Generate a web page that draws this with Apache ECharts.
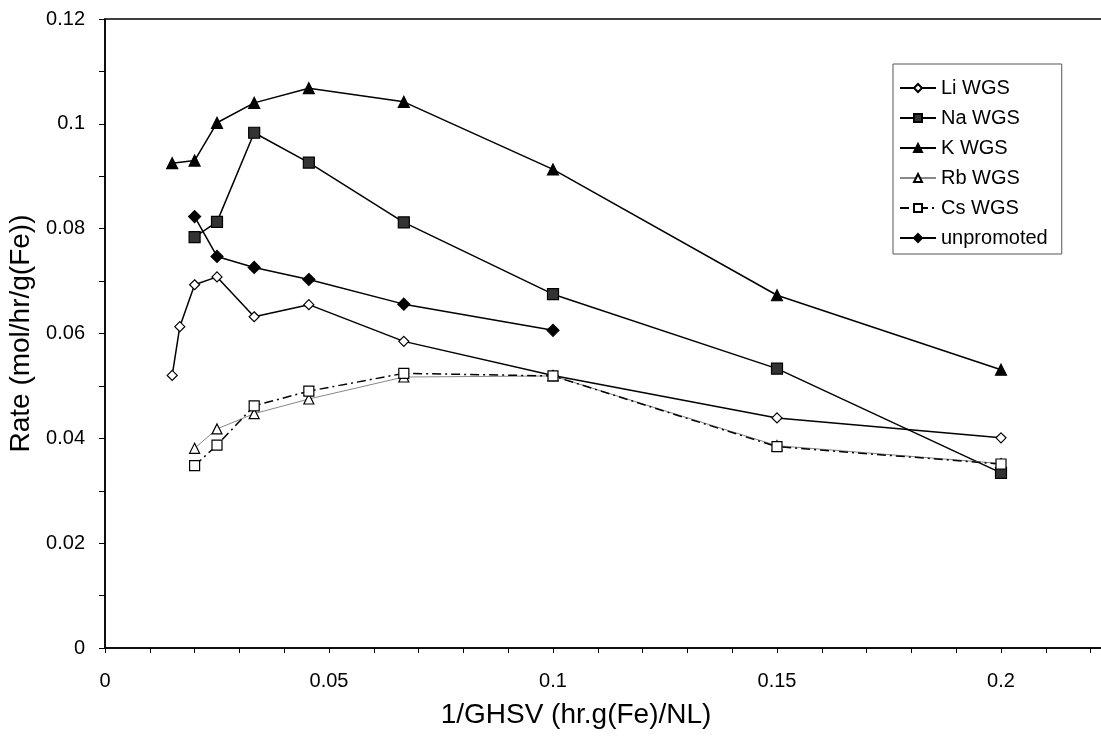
<!DOCTYPE html>
<html>
<head>
<meta charset="utf-8">
<script src="https://cdn.jsdelivr.net/npm/echarts@6/dist/echarts.min.js"></script>
<style>
html,body{margin:0;padding:0;background:#fff;}
#c{width:1101px;height:738px;}
</style>
</head>
<body>
<div id="c"></div>
<script>
// ---- data ----
const liX = [0.015, 0.0167, 0.02, 0.025, 0.0333, 0.0455, 0.0667, 0.1, 0.15, 0.2];
const liY = [0.052, 0.0613, 0.0693, 0.0708, 0.0632, 0.0655, 0.0585, 0.052, 0.0439, 0.0401];
const naX = [0.02, 0.025, 0.0333, 0.0455, 0.0667, 0.1, 0.15, 0.2];
const naY = [0.0784, 0.0813, 0.0983, 0.0926, 0.0812, 0.0675, 0.0533, 0.0334];
const kX = [0.015, 0.02, 0.025, 0.0333, 0.0455, 0.0667, 0.1, 0.15, 0.2];
const kY = [0.0925, 0.093, 0.1002, 0.104, 0.1068, 0.1042, 0.0913, 0.0673, 0.0531];
const rbX = [0.02, 0.025, 0.0333, 0.0455, 0.0667, 0.1, 0.15, 0.2];
const rbY = [0.0381, 0.0418, 0.0447, 0.0475, 0.0517, 0.0519, 0.0386, 0.0352];
const csX = [0.02, 0.025, 0.0333, 0.0455, 0.0667, 0.1, 0.15, 0.2];
const csY = [0.0348, 0.0387, 0.0462, 0.049, 0.0524, 0.0519, 0.0384, 0.0351];
const unX = [0.02, 0.025, 0.0333, 0.0455, 0.0667, 0.1];
const unY = [0.0823, 0.0747, 0.0726, 0.0703, 0.0656, 0.0606];
const seriesNames = ['Li WGS', 'Na WGS', 'K WGS', 'Rb WGS', 'Cs WGS', 'unpromoted'];
const xTitle = '1/GHSV (hr.g(Fe)/NL)';
const yTitle = 'Rate (mol/hr/g(Fe))';

const zip = (xs, ys) => xs.map((x, i) => [x, ys[i]]);
const FONT = 'Liberation Sans, Arial, sans-serif';

function mk(name, xs, ys, symbol, size, fill, border, line) {
  return {
    name, type: 'line', data: zip(xs, ys),
    symbol, symbolSize: size, showAllSymbol: true,
    itemStyle: { color: fill, borderColor: border, borderWidth: 1.2 },
    lineStyle: line,
    emphasis: { disabled: true },
    animation: false,
    z: 3
  };
}

const chart = echarts.init(document.getElementById('c'), null, { renderer: 'canvas' });
chart.setOption({
  backgroundColor: '#fff',
  animation: false,
  textStyle: { fontFamily: FONT },
  grid: {
    left: 105, top: 19, bottom: 90, right: -124,
    outerBoundsMode: 'none', containLabel: false,
    show: true, borderColor: '#000', borderWidth: 1.5, backgroundColor: 'transparent'
  },
  xAxis: {
    type: 'value', min: 0, max: 0.25, interval: 0.01,
    axisLine: { lineStyle: { color: '#000', width: 1.5 } },
    axisTick: { show: true, length: 5, lineStyle: { color: '#000' } },
    splitLine: { show: false },
    axisLabel: {
      color: '#000', fontSize: 20, margin: 23, fontFamily: FONT,
      formatter: function (v) {
        const k = Math.round(v / 0.05);
        if (Math.abs(k * 0.05 - v) < 1e-9) return String(+(k * 0.05).toFixed(2));
        return '';
      }
    }
  },
  yAxis: {
    type: 'value', min: 0, max: 0.12, interval: 0.02,
    name: yTitle, nameLocation: 'middle', nameGap: 56,
    nameTextStyle: { color: '#000', fontSize: 28, fontFamily: FONT },
    axisLine: { show: true, lineStyle: { color: '#000', width: 1.5 } },
    axisTick: { show: true, length: 6, lineStyle: { color: '#000' } },
    minorTick: { show: true, splitNumber: 2, length: 6, lineStyle: { color: '#000' } },
    splitLine: { show: false },
    axisLabel: { color: '#000', fontSize: 20, margin: 20, fontFamily: FONT }
  },
  legend: {
    orient: 'vertical', left: 893, top: 64,
    data: seriesNames,
    itemWidth: 36, itemHeight: 10, itemGap: 10,
    padding: [14, 14, 6, 6],
    borderColor: '#555', borderWidth: 1,
    textStyle: { color: '#000', fontSize: 20, fontFamily: FONT }
  },
  graphic: [{
    type: 'text',
    style: { text: xTitle, x: 576, y: 715, textAlign: 'center', textVerticalAlign: 'middle',
      fontSize: 28, fill: '#000', fontFamily: FONT }
  }],
  series: [
    mk(seriesNames[0], liX, liY, 'diamond', 10, '#fff', '#000', { color: '#000', width: 1.5 }),
    mk(seriesNames[1], naX, naY, 'rect', 11, '#333', '#000', { color: '#000', width: 1.5 }),
    mk(seriesNames[2], kX, kY, 'triangle', 11, '#000', '#000', { color: '#000', width: 1.5 }),
    mk(seriesNames[3], rbX, rbY, 'triangle', 10, '#fff', '#000', { color: '#888', width: 1 }),
    mk(seriesNames[4], csX, csY, 'rect', 10, '#fff', '#000', { color: '#000', width: 1.5, type: [9, 4, 2, 4] }),
    mk(seriesNames[5], unX, unY, 'diamond', 12, '#000', '#000', { color: '#000', width: 1.5 })
  ]
});
</script>
</body>
</html>
